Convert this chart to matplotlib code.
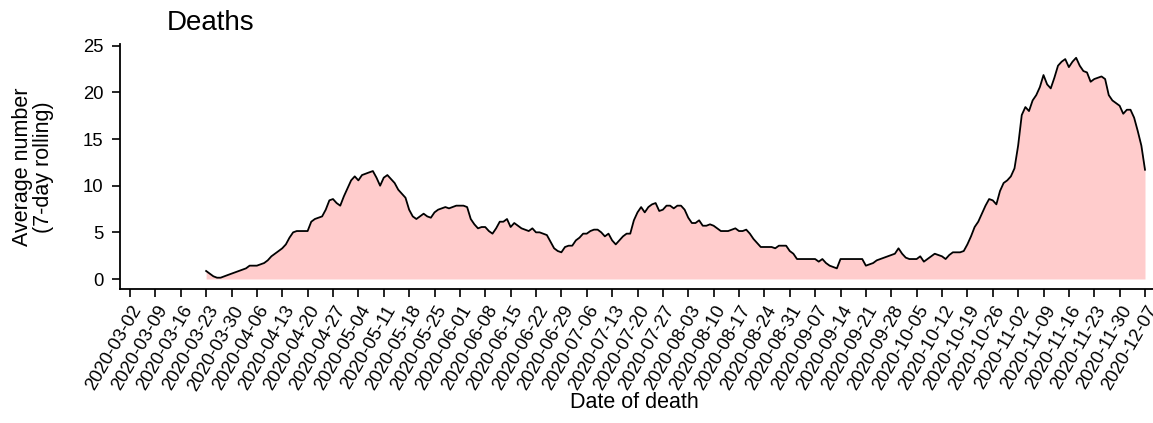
import numpy as np
import pandas as pd
import matplotlib
matplotlib.use("Agg")
import matplotlib.pyplot as plt
import matplotlib.dates as mdates
import matplotlib.transforms as mtransforms

plt.rcParams['font.family'] = ['Liberation Sans', 'DejaVu Sans']

# ---- data: 7-day rolling average of deaths, daily from 2020-03-23 ----
start_date = "2020-03-23"
avg_deaths = [
    0.86, 0.57, 0.29, 0.14, 0.14, 0.29, 0.43, 0.57, 0.71, 0.86,   # 03-23 ..
    1.00, 1.14, 1.43, 1.43, 1.43, 1.57, 1.71, 2.00, 2.43, 2.71,
    3.00, 3.29, 3.71, 4.43, 5.00, 5.14, 5.14, 5.14, 5.14, 6.14,
    6.43, 6.57, 6.71, 7.43, 8.43, 8.57, 8.14, 7.86, 8.86, 9.71,
    10.57, 11.00, 10.57, 11.14, 11.29, 11.43, 11.57, 10.86, 10.00, 10.86,
    11.14, 10.71, 10.29, 9.57, 9.14, 8.71, 7.43, 6.71, 6.43, 6.71,
    7.00, 6.71, 6.57, 7.14, 7.43, 7.57, 7.71, 7.57, 7.71, 7.86,
    7.86, 7.86, 7.71, 6.43, 5.86, 5.43, 5.57, 5.57, 5.14, 4.86,
    5.43, 6.14, 6.14, 6.43, 5.57, 6.00, 5.71, 5.43, 5.29, 5.14,
    5.43, 5.00, 5.00, 4.86, 4.71, 4.00, 3.29, 3.00, 2.86, 3.43,
    3.57, 3.57, 4.14, 4.43, 4.86, 4.86, 5.14, 5.29, 5.29, 5.00,
    4.57, 4.86, 4.14, 3.71, 4.14, 4.57, 4.86, 4.86, 6.29, 7.14,
    7.71, 7.14, 7.71, 8.00, 8.14, 7.29, 7.43, 7.86, 7.86, 7.57,
    7.86, 7.86, 7.43, 6.57, 6.00, 6.00, 6.29, 5.71, 5.71, 5.86,
    5.71, 5.43, 5.14, 5.14, 5.14, 5.29, 5.43, 5.14, 5.14, 5.29,
    4.86, 4.29, 3.86, 3.43, 3.43, 3.43, 3.43, 3.29, 3.57, 3.57,
    3.57, 3.00, 2.71, 2.14, 2.14, 2.14, 2.14, 2.14, 2.14, 1.86,
    2.14, 1.71, 1.43, 1.29, 1.14, 2.14, 2.14, 2.14, 2.14, 2.14,
    2.14, 2.14, 1.43, 1.57, 1.71, 2.00, 2.14, 2.29, 2.43, 2.57,
    2.71, 3.29, 2.71, 2.29, 2.14, 2.14, 2.14, 2.43, 1.86, 2.14,
    2.43, 2.71, 2.57, 2.43, 2.14, 2.57, 2.86, 2.86, 2.86, 3.00,
    3.71, 4.57, 5.57, 6.14, 7.00, 7.86, 8.57, 8.43, 8.00, 9.43,
    10.29, 10.57, 11.00, 11.86, 14.29, 17.57, 18.43, 18.00, 19.14, 19.71,
    20.57, 21.86, 20.86, 20.43, 21.57, 22.86, 23.29, 23.57, 22.71, 23.29,
    23.71, 22.86, 22.29, 22.14, 21.14, 21.43, 21.57, 21.71, 21.43, 19.71,
    19.14, 18.86, 18.57, 17.71, 18.14, 18.14, 17.29, 15.86, 14.29, 11.71,
]
dates = pd.date_range(start_date, periods=len(avg_deaths), freq="D")

tick_dates = pd.date_range("2020-03-02", "2020-12-07", freq="7D")
tick_labels = [d.strftime("%Y-%m-%d") for d in tick_dates]
y_ticks = [0, 5, 10, 15, 20, 25]

# ---- figure ----
W, H = 1153, 423
fig = plt.figure(figsize=(W / 100, H / 100), dpi=100)
ax_left, ax_right, ax_top, ax_bot = 120, 1153, 44, 289
ax = fig.add_axes([ax_left / W, 1 - ax_bot / H, (ax_right - ax_left) / W, (ax_bot - ax_top) / H])

x = mdates.date2num(dates)
ax.fill_between(x, 0, avg_deaths, color="#FFCCCC", linewidth=0)
ax.plot(x, avg_deaths, color="black", linewidth=1.3)

t0 = mdates.date2num(pd.Timestamp("2020-03-02"))
px_per_day = 3.625
ax.set_xlim(t0 - (130 - ax_left) / px_per_day, t0 + (ax_right - 130) / px_per_day)
px_per_unit = 9.33
ax.set_ylim(-(ax_bot - 279) / px_per_unit, (279 - ax_top) / px_per_unit)

ax.spines['top'].set_visible(False)
ax.spines['right'].set_visible(False)
for s in ('left', 'bottom'):
    ax.spines[s].set_linewidth(1.3)

ax.set_yticks(y_ticks)
ax.set_yticklabels([str(v) for v in y_ticks])
ax.set_xticks(mdates.date2num(tick_dates))
ax.set_xticklabels(tick_labels, rotation=60, ha='right', va='center',
                   rotation_mode='anchor')
ax.tick_params(axis='both', direction='out', length=6, width=1.2, labelsize=13.3,
               colors='black')
ax.tick_params(axis='y', pad=6)
ax.tick_params(axis='x', pad=7)
offset = mtransforms.ScaledTranslation(8 / 100, 0, fig.dpi_scale_trans)
for lab in ax.get_xticklabels():
    lab.set_transform(lab.get_transform() + offset)

fig.text(634 / W, 1 - 402 / H, "Date of death", ha='center', va='center', fontsize=15.5)
fig.text(33 / W, 1 - 167 / H, "Average number\n(7-day rolling)", ha='center', va='center',
         rotation=90, fontsize=15.5, linespacing=1.0)
fig.text(167 / W, 1 - 23 / H, "Deaths", ha='left', va='center', fontsize=20)

fig.savefig("out.png", dpi=100)
